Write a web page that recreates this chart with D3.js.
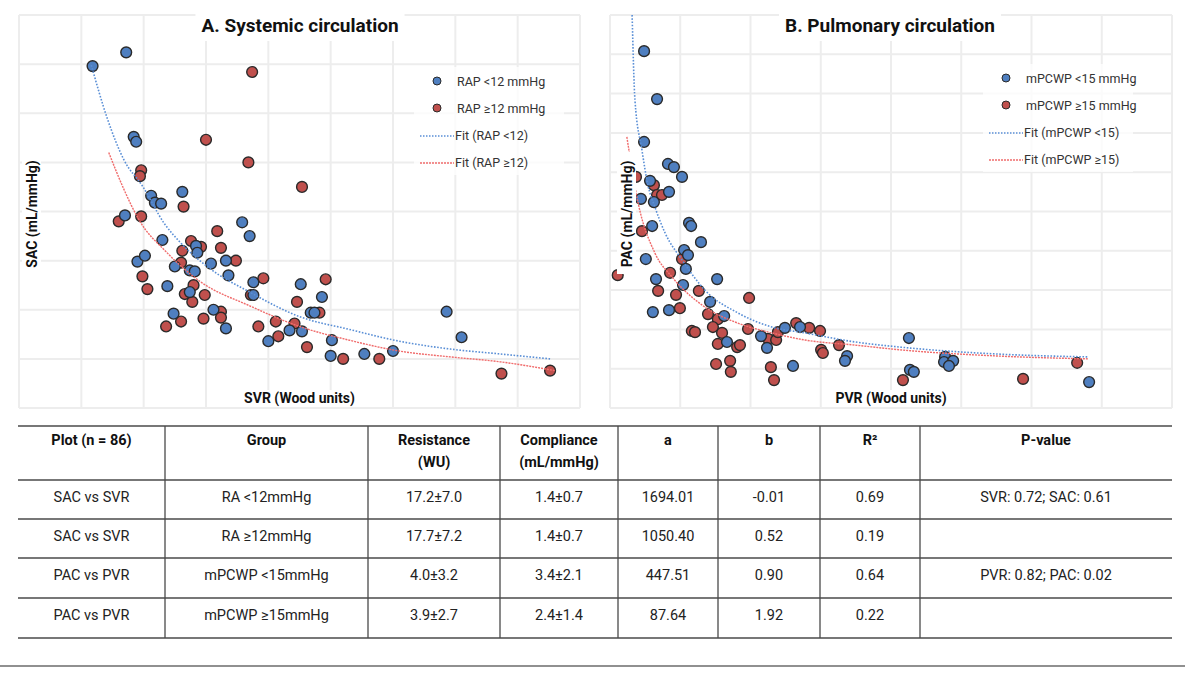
<!DOCTYPE html>
<html>
<head>
<meta charset="utf-8">
<script src="https://cdnjs.cloudflare.com/ajax/libs/d3/7.8.5/d3.min.js"></script>
<style>
  body { margin: 0; background: #fff; font-family: Roboto, 'Noto Sans', sans-serif; }
</style>
</head>
<body>
<svg id="chart" width="1198" height="682"></svg>
<script>
// ---- data ----
// A. systemic: [SVR, SAC]
var sysLow = [[5.9,3.48],[8.6,3.62],[9.2,2.76],[9.4,2.71],[10.6,2.16],[10.9,2.09],[11.4,2.08],[13.1,2.20],
  [8.5,1.96],[17.9,1.89],[18.5,1.75],[11.5,1.71],[14.2,1.65],[14.3,1.58],[9.5,1.49],[10.1,1.55],[12.5,1.44],
  [15.4,1.47],[16.6,1.50],[13.7,1.40],[14.1,1.39],[16.8,1.35],[18.8,1.28],[11.9,1.24],[13.7,1.18],[18.8,1.15],
  [22.6,1.26],[24.3,1.13],[15.6,1.00],[23.4,0.97],[23.7,0.97],[12.4,0.96],[16.6,0.81],[21.7,0.79],[22.7,0.78],
  [20.0,0.68],[25.1,0.69],[25.0,0.53],[27.7,0.55],[30.0,0.58],[34.3,0.98],[35.5,0.72]];
var sysHigh = [[18.7,3.42],[15.0,2.73],[9.8,2.42],[9.7,2.36],[18.4,2.50],[22.7,2.25],[13.2,2.05],[8.0,1.90],
  [9.8,1.95],[15.9,1.80],[13.8,1.70],[14.6,1.64],[16.2,1.63],[13.1,1.60],[13.0,1.48],[17.4,1.50],[9.9,1.34],
  [19.6,1.32],[24.6,1.31],[10.3,1.21],[14.0,1.25],[13.3,1.16],[14.9,1.15],[18.6,1.15],[13.9,1.08],[22.3,1.08],
  [16.2,0.98],[16.2,0.92],[24.1,0.97],[13.0,0.88],[11.8,0.83],[14.8,0.91],[19.2,0.83],[20.6,0.88],[22.1,0.86],
  [20.8,0.73],[23.1,0.62],[26.0,0.50],[28.9,0.50],[38.7,0.35],[42.6,0.38]];
var sysLowFit = [[5.8,3.49],[7.1,2.94],[8.4,2.53],[9.9,2.26],[11.7,1.87],[12.9,1.69],[15.3,1.42],[18.5,1.18],
  [22.5,0.93],[26.5,0.80],[30.5,0.68],[34.6,0.60],[38.6,0.55],[42.6,0.50]];
var sysHighFit = [[7.2,2.60],[8.4,2.23],[9.6,1.92],[11.8,1.59],[14.5,1.29],[18.5,1.04],[22.5,0.83],[26.5,0.69],
  [30.5,0.58],[34.6,0.52],[38.6,0.47],[43.0,0.38]];

// B. pulmonary: [PVR, PAC]
var pulLow = [[0.97,9.08],[1.34,7.86],[0.97,6.77],[1.65,6.21],[1.82,6.13],[2.05,5.88],[1.14,5.78],[1.68,5.50],
  [0.88,5.32],[1.25,5.24],[2.25,4.71],[2.31,4.63],[1.20,4.63],[2.59,4.22],[2.11,4.02],[2.22,3.89],[1.02,3.79],
  [2.16,3.54],[1.31,3.28],[3.05,3.28],[2.08,3.13],[2.85,2.70],[1.22,2.44],[1.68,2.49],[3.25,2.34],[3.33,1.68],
  [4.30,1.83],[4.47,1.53],[4.98,2.04],[5.41,2.06],[5.21,1.07],[6.75,1.32],[6.69,1.20],[8.51,1.78],[8.54,0.97],
  [8.65,0.92],[9.54,1.30],[9.51,1.17],[9.77,1.20],[9.65,1.07],[13.64,0.66]];
var pulHigh = [[0.74,5.88],[0.22,3.38],[1.25,5.67],[1.34,5.42],[1.48,5.42],[0.91,4.50],[2.05,3.79],[1.71,3.44],
  [1.37,2.98],[1.88,2.88],[2.53,2.98],[3.96,2.80],[1.99,2.54],[2.79,2.39],[3.07,2.26],[2.93,2.06],[2.33,1.96],
  [2.42,1.93],[3.19,1.91],[3.93,2.01],[3.07,1.63],[3.62,1.55],[3.70,1.60],[4.50,1.76],[4.73,1.73],[4.78,1.93],
  [5.30,2.16],[5.67,2.04],[5.98,1.96],[6.01,1.48],[6.06,1.40],[6.52,1.60],[3.02,1.12],[3.42,1.20],[3.44,0.92],
  [4.58,1.04],[4.67,0.71],[8.34,0.71],[11.76,0.74],[13.30,1.15]];
var pulLowFit = [[0.63,10.0],[0.71,7.84],[0.91,6.56],[1.08,5.67],[1.28,5.11],[1.57,4.45],[2.05,3.77],[2.70,3.00],
  [3.64,2.42],[4.61,2.06],[5.55,1.91],[6.98,1.68],[8.26,1.55],[11.10,1.37],[13.61,1.30]];
var pulHighFit = [[0.48,6.90],[0.80,5.22],[1.28,3.94],[1.77,3.33],[2.70,2.57],[3.64,2.16],[4.61,1.91],[5.55,1.73],
  [6.98,1.60],[8.26,1.48],[11.10,1.32],[13.61,1.25]];

var titles = ["A. Systemic circulation", "B. Pulmonary circulation"];
var xLabels = ["SVR (Wood units)", "PVR (Wood units)"];
var yLabels = ["SAC (mL/mmHg)", "PAC (mL/mmHg)"];
var legendA = ["RAP <12 mmHg", "RAP \u226512 mmHg", "Fit (RAP <12)", "Fit (RAP \u226512)"];
var legendB = ["mPCWP <15 mmHg", "mPCWP \u226515 mmHg", "Fit (mPCWP <15)", "Fit (mPCWP \u226515)"];

var tableHead = [["Plot (n = 86)"], ["Group"], ["Resistance", "(WU)"], ["Compliance", "(mL/mmHg)"], ["a"], ["b"], ["R\u00b2"], ["P-value"]];
var tableRows = [
  ["SAC vs SVR", "RA <12mmHg", "17.2\u00b17.0", "1.4\u00b10.7", "1694.01", "-0.01", "0.69", "SVR: 0.72; SAC: 0.61"],
  ["SAC vs SVR", "RA \u226512mmHg", "17.7\u00b17.2", "1.4\u00b10.7", "1050.40", "0.52", "0.19", ""],
  ["PAC vs PVR", "mPCWP <15mmHg", "4.0\u00b13.2", "3.4\u00b12.1", "447.51", "0.90", "0.64", "PVR: 0.82; PAC: 0.02"],
  ["PAC vs PVR", "mPCWP \u226515mmHg", "3.9\u00b12.7", "2.4\u00b11.4", "87.64", "1.92", "0.22", ""]
];

// ---- styling ----
var blue = "#4f7fc0", red = "#c0504d";
var blueFit = "#5a8fd6", redFit = "#f06c6c";
var svg = d3.select("#chart");

var panels = [
  {title: titles[0], xl: xLabels[0], yl: yLabels[0], legend: legendA,
   xd: [0, 45], xstep: 5, yd: [0, 4], ystep: 0.5, box: [19, 580, 15, 408],
   low: sysLow, high: sysHigh, lowFit: sysLowFit, highFit: sysHighFit,
   titleX: 300, legX: 420, legY: 81, ylX: 32},
  {title: titles[1], xl: xLabels[1], yl: yLabels[1], legend: legendB,
   xd: [0, 16], xstep: 2, yd: [0, 10], ystep: 1, box: [610, 1172, 15, 408],
   low: pulLow, high: pulHigh, lowFit: pulLowFit, highFit: pulHighFit,
   titleX: 890, legX: 989, legY: 78, ylX: 627}
];

panels.forEach(function(p) {
  var x = d3.scaleLinear().domain(p.xd).range([p.box[0], p.box[1]]);
  var y = d3.scaleLinear().domain(p.yd).range([p.box[3], p.box[2]]);
  var g = svg.append("g");

  // gridlines
  g.selectAll(".vg").data(d3.range(p.xd[0], p.xd[1] + 1e-6, p.xstep)).enter()
    .append("line").attr("x1", d => x(d)).attr("x2", d => x(d))
    .attr("y1", p.box[2]).attr("y2", p.box[3])
    .attr("stroke", "#ededed").attr("stroke-width", 2);
  g.selectAll(".hg").data(d3.range(p.yd[0], p.yd[1] + 1e-6, p.ystep)).enter()
    .append("line").attr("y1", d => y(d)).attr("y2", d => y(d))
    .attr("x1", p.box[0]).attr("x2", p.box[1])
    .attr("stroke", "#ededed").attr("stroke-width", 2);

  // points
  [[p.high, red], [p.low, blue]].forEach(function(s) {
    g.selectAll(null).data(s[0]).enter().append("circle")
      .attr("cx", d => x(d[0])).attr("cy", d => y(d[1])).attr("r", 5.4)
      .attr("fill", s[1]).attr("stroke", "#2a2a2a").attr("stroke-width", 1.4);
  });

  // fit curves
  var line = d3.line().x(d => x(d[0])).y(d => y(d[1])).curve(d3.curveMonotoneX);
  g.append("path").datum(p.highFit).attr("d", line).attr("fill", "none")
    .attr("stroke", redFit).attr("stroke-width", 1.4).attr("stroke-dasharray", "2,1");
  g.append("path").datum(p.lowFit).attr("d", line).attr("fill", "none")
    .attr("stroke", blueFit).attr("stroke-width", 1.6).attr("stroke-dasharray", "1.6,1.6");

  // title
  var t = g.append("text").attr("x", p.titleX).attr("y", 32).attr("text-anchor", "middle")
    .attr("font-size", 19).attr("font-weight", "bold").attr("fill", "#111").text(p.title);
  var bb = t.node().getBBox();
  g.insert("rect", function() { return t.node(); })
    .attr("x", bb.x - 6).attr("y", 3).attr("width", bb.width + 12).attr("height", 38).attr("fill", "#fff");

  // x label
  var xt = g.append("text").attr("x", (p.box[0] + p.box[1]) / 2).attr("y", 403).attr("text-anchor", "middle")
    .attr("font-size", 14).attr("font-weight", "bold").attr("fill", "#111").text(p.xl);
  bb = xt.node().getBBox();
  g.insert("rect", function() { return xt.node(); })
    .attr("x", bb.x - 3).attr("y", bb.y).attr("width", bb.width + 6).attr("height", bb.height).attr("fill", "#fff");

  // y label
  var yt = g.append("text").attr("transform", "translate(" + (p.ylX + 5) + ",214) rotate(-90)")
    .attr("text-anchor", "middle").attr("font-size", 14).attr("font-weight", "bold").attr("fill", "#111").text(p.yl);
  g.insert("rect", function() { return yt.node(); })
    .attr("x", p.ylX - 10).attr("y", 152).attr("width", 19).attr("height", 122).attr("fill", "#fff");

  // legend
  var lg = g.append("g").attr("transform", "translate(" + p.legX + "," + p.legY + ")");
  lg.append("rect").attr("x", -6).attr("y", -14).attr("width", 150).attr("height", 108)
    .attr("fill", "#fff").attr("opacity", 0.75);
  [blue, red].forEach(function(c, i) {
    lg.append("circle").attr("cx", 17).attr("cy", i * 27).attr("r", 4)
      .attr("fill", c).attr("stroke", "#2a2a2a").attr("stroke-width", 1);
  });
  lg.append("line").attr("x1", 0).attr("x2", 34).attr("y1", 55).attr("y2", 55)
    .attr("stroke", blueFit).attr("stroke-width", 1.3).attr("stroke-dasharray", "1.5,1.5");
  lg.append("line").attr("x1", 0).attr("x2", 34).attr("y1", 82).attr("y2", 82)
    .attr("stroke", redFit).attr("stroke-width", 1.3).attr("stroke-dasharray", "2,1");
  lg.selectAll("text").data(p.legend).enter().append("text")
    .attr("x", (d, i) => i < 2 ? 37 : 35).attr("y", (d, i) => i * 27 + 4.5)
    .attr("font-size", 12.5).attr("fill", "#333").text(d => d);
});

// ---- table ----
var colEdges = [18, 165, 368, 500, 618, 718, 820, 920, 1172];
var rowLines = [426, 480, 519, 558, 598, 638];
var tg = svg.append("g").attr("font-size", 14.5).attr("fill", "#222");
rowLines.forEach(function(yy) {
  tg.append("line").attr("x1", colEdges[0]).attr("x2", colEdges[colEdges.length - 1])
    .attr("y1", yy).attr("y2", yy).attr("stroke", "#4a4a4a").attr("stroke-width", 1.6);
});
colEdges.slice(1, -1).forEach(function(xx) {
  tg.append("line").attr("x1", xx).attr("x2", xx).attr("y1", rowLines[0]).attr("y2", rowLines[rowLines.length - 1])
    .attr("stroke", "#4a4a4a").attr("stroke-width", 1.3);
});
var colMid = d3.range(tableHead.length).map(i => (colEdges[i] + colEdges[i + 1]) / 2);
tableHead.forEach(function(lines, i) {
  lines.forEach(function(s, j) {
    tg.append("text").attr("x", colMid[i]).attr("y", 445 + j * 22).attr("text-anchor", "middle")
      .attr("font-weight", "bold").attr("fill", "#111").text(s);
  });
});
tableRows.forEach(function(row, r) {
  row.forEach(function(s, i) {
    tg.append("text").attr("x", colMid[i]).attr("y", rowLines[r + 1] + 22).attr("text-anchor", "middle")
      .attr("fill", "#222").text(s);
  });
});
svg.append("line").attr("x1", 0).attr("x2", 1185).attr("y1", 666).attr("y2", 666)
  .attr("stroke", "#222").attr("stroke-width", 1.2);
</script>
</body>
</html>
